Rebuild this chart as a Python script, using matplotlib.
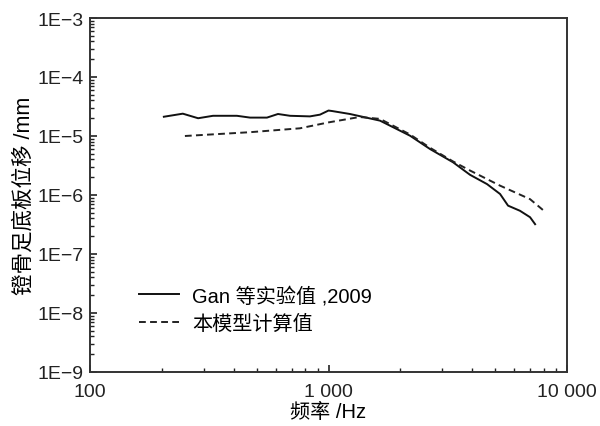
import numpy as np
import matplotlib
matplotlib.use("Agg")
import matplotlib.pyplot as plt
from matplotlib.ticker import FixedLocator, FixedFormatter, LogLocator, NullFormatter

plt.rcParams['font.family'] = ['Liberation Sans', 'Noto Sans CJK SC', 'DejaVu Sans']
plt.rcParams['axes.unicode_minus'] = True

# Gan 等实验值, 2009
gan_freq = [204, 245, 284, 328, 413, 469, 552, 614, 690, 836, 921, 1000, 1035,
            1230, 1644, 2198, 2667, 3330, 3920, 4620, 5240, 5660, 6350, 7000, 7350]
gan_disp = [2.12e-5, 2.39e-5, 2.0e-5, 2.2e-5, 2.2e-5, 2.05e-5, 2.05e-5, 2.36e-5,
            2.2e-5, 2.15e-5, 2.3e-5, 2.7e-5, 2.65e-5,
            2.36e-5, 1.82e-5, 1.01e-5, 6.0e-6, 3.58e-6, 2.2e-6, 1.53e-6,
            1.04e-6, 6.6e-7, 5.4e-7, 4.2e-7, 3.2e-7]

# 本模型计算值
model_freq = [250, 469, 759, 1000, 1350, 1644, 2198, 2667, 3330, 3920, 5240, 7000, 8090]
model_disp = [1.0e-5, 1.16e-5, 1.35e-5, 1.7e-5, 2.1e-5, 1.95e-5, 1.06e-5, 6.3e-6,
              3.7e-6, 2.6e-6, 1.44e-6, 8.5e-7, 5.2e-7]

xticks = [100, 1000, 10000]
xtick_labels = ['100', '1 000', '10 000']
yticks = [1e-9, 1e-8, 1e-7, 1e-6, 1e-5, 1e-4, 1e-3]
ytick_labels = ['1E\u22129', '1E\u22128', '1E\u22127', '1E\u22126', '1E\u22125', '1E\u22124', '1E\u22123']

fig = plt.figure(figsize=(6, 4.27), dpi=100)
ax = fig.add_axes([0.15, 0.1265, 0.795, 0.829])

ax.plot(gan_freq, gan_disp, color='#111111', lw=1.4, label='Gan 等实验值 ,2009')
ax.plot(model_freq, model_disp, color='#222222', lw=1.4, ls=(0, (3.5, 2.2)), label='本模型计算值')

ax.set_xscale('log')
ax.set_yscale('log')
ax.set_xlim(100, 10000)
ax.set_ylim(1e-9, 1e-3)

ax.xaxis.set_major_locator(FixedLocator(xticks))
ax.xaxis.set_major_formatter(FixedFormatter(xtick_labels))
ax.xaxis.set_minor_locator(LogLocator(base=10, subs=np.arange(2, 10)))
ax.xaxis.set_minor_formatter(NullFormatter())
ax.yaxis.set_major_locator(FixedLocator(yticks))
ax.yaxis.set_major_formatter(FixedFormatter(ytick_labels))
ax.yaxis.set_minor_locator(LogLocator(base=10, subs=np.arange(2, 10)))
ax.yaxis.set_minor_formatter(NullFormatter())

ax.tick_params(which='both', direction='in', top=False, right=False, colors='#222222')
ax.tick_params(which='major', length=5, width=1.2, labelsize=14)
ax.tick_params(axis='y', which='major', pad=4.5)
ax.tick_params(axis='x', which='major', pad=8)
ax.tick_params(which='minor', length=3, width=1.0)
for s in ax.spines.values():
    s.set_linewidth(1.4)
    s.set_color('#333333')

ax.set_xlabel('频率 /Hz', fontsize=14.5, labelpad=1)
ax.set_ylabel('镫骨足底板位移 /mm', fontsize=15.5, labelpad=2)

ax.legend(loc='lower left', bbox_to_anchor=(0.065, 0.06), frameon=False, fontsize=14.5,
          handlelength=2.0, handletextpad=0.65, labelspacing=0.4)

fig.savefig('out.png', dpi=100)
